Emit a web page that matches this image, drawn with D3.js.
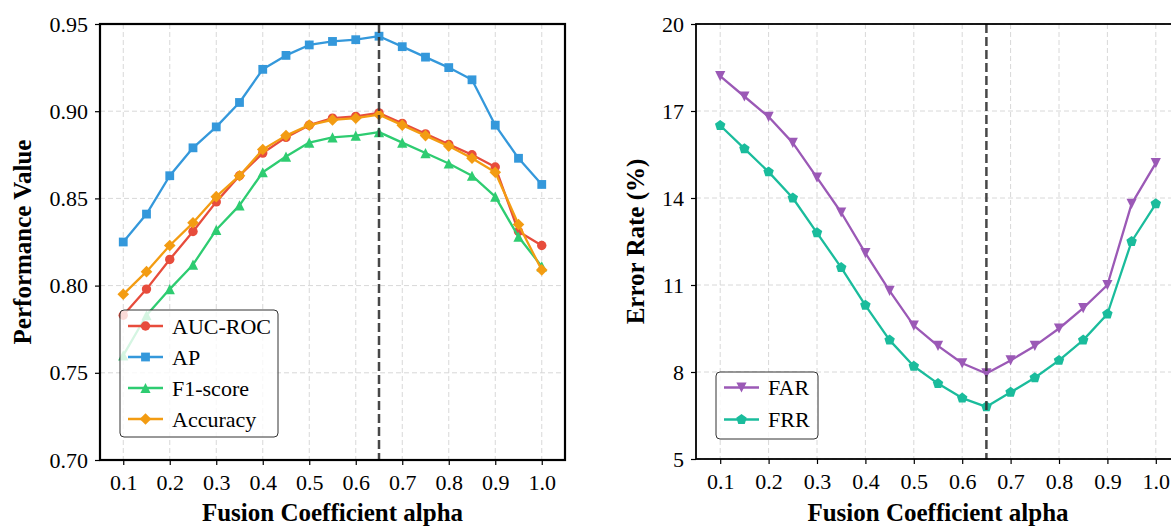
<!DOCTYPE html>
<html><head><meta charset="utf-8">
<script src="https://cdn.jsdelivr.net/npm/d3@7"></script>
<style>
body{margin:0;background:#fff}
svg{display:block}
text{font-family:"Liberation Serif","Times New Roman",serif;fill:#000}
</style>
</head><body>
<svg id="c" width="1171" height="526"></svg>
<script>
// ---- data ----
const alpha = [0.1,0.15,0.2,0.25,0.3,0.35,0.4,0.45,0.5,0.55,0.6,0.65,0.7,0.75,0.8,0.85,0.9,0.95,1.0];
const aucRoc   = [0.783,0.798,0.815,0.831,0.848,0.863,0.876,0.885,0.892,0.896,0.897,0.899,0.893,0.887,0.881,0.875,0.868,0.831,0.823];
const ap       = [0.825,0.841,0.863,0.879,0.891,0.905,0.924,0.932,0.938,0.940,0.941,0.943,0.937,0.931,0.925,0.918,0.892,0.873,0.858];
const f1Score  = [0.760,0.783,0.798,0.812,0.832,0.846,0.865,0.874,0.882,0.885,0.886,0.888,0.882,0.876,0.870,0.863,0.851,0.828,0.811];
const accuracy = [0.795,0.808,0.823,0.836,0.851,0.863,0.878,0.886,0.892,0.895,0.896,0.898,0.892,0.886,0.880,0.873,0.865,0.835,0.809];
const far = [18.2,17.5,16.8,15.9,14.7,13.5,12.1,10.8,9.6,8.9,8.3,7.95,8.4,8.9,9.5,10.2,11.0,13.8,15.2];
const frr = [16.5,15.7,14.9,14.0,12.8,11.6,10.3,9.1,8.2,7.6,7.1,6.8,7.3,7.8,8.4,9.1,10.0,12.5,13.8];
const xTicks = [0.1,0.2,0.3,0.4,0.5,0.6,0.7,0.8,0.9,1.0];
const perfTicks = [0.70,0.75,0.80,0.85,0.90,0.95];
const errTicks = [5,8,11,14,17,20];
const bestAlpha = 0.65;
const perfSeries = [
  {name:"AUC-ROC", values:aucRoc, color:"#e74c3c", marker:"circle"},
  {name:"AP", values:ap, color:"#3498db", marker:"square"},
  {name:"F1-score", values:f1Score, color:"#2ecc71", marker:"triUp"},
  {name:"Accuracy", values:accuracy, color:"#f39c12", marker:"diamond"}
];
const errSeries = [
  {name:"FAR", values:far, color:"#9b59b6", marker:"triDown"},
  {name:"FRR", values:frr, color:"#1abc9c", marker:"pentagon"}
];

function markerPath(t){
  switch(t){
    case "circle": {const r=4.7; return `M${r},0A${r},${r} 0 1,1 ${-r},0A${r},${r} 0 1,1 ${r},0Z`;}
    case "square": {const h=4.4; return `M${-h},${-h}H${h}V${h}H${-h}Z`;}
    case "triUp": {const h=5.1; return `M0,${-h}L${h},${h}L${-h},${h}Z`;}
    case "triDown": {const h=5.1; return `M0,${h}L${h},${-h}L${-h},${-h}Z`;}
    case "diamond": {const h=5.8; return `M0,${-h}L${h},0L0,${h}L${-h},0Z`;}
    case "pentagon": {const r=5.5; let p=[]; for(let i=0;i<5;i++){const a=-Math.PI/2+i*2*Math.PI/5; p.push([r*Math.cos(a),r*Math.sin(a)]);} return "M"+p.map(d=>d.join(",")).join("L")+"Z";}
  }
}

const svg = d3.select("#c");

function panel(cfg){
  const x = d3.scaleLinear().domain([0.05,1.05]).range([cfg.x0,cfg.x1]);
  const y = d3.scaleLinear().domain(cfg.yDomain).range([cfg.y1,cfg.y0]);
  const g = svg.append("g");
  // grid
  const grid = g.append("g");
  grid.selectAll("line.vx").data(xTicks).join("line")
    .attr("x1",d=>x(d)).attr("x2",d=>x(d)).attr("y1",cfg.y0).attr("y2",cfg.y1)
    .attr("stroke","#d8d8d8").attr("stroke-width",1).attr("stroke-dasharray","5,3");
  grid.selectAll("line.hy").data(cfg.yTicks).join("line")
    .attr("x1",cfg.x0).attr("x2",cfg.x1).attr("y1",d=>y(d)).attr("y2",d=>y(d))
    .attr("stroke","#d8d8d8").attr("stroke-width",1).attr("stroke-dasharray","5,3");
  // lines
  const line = d3.line().x((d,i)=>x(alpha[i])).y(d=>y(d));
  cfg.series.forEach(s=>{
    g.append("path").attr("d",line(s.values)).attr("fill","none")
      .attr("stroke",s.color).attr("stroke-width",2.3).attr("stroke-linejoin","round");
    g.selectAll(null).data(s.values).join("path")
      .attr("transform",(d,i)=>`translate(${x(alpha[i])},${y(d)})`)
      .attr("d",markerPath(s.marker)).attr("fill",s.color);
  });
  // best alpha line
  g.append("line").attr("x1",x(bestAlpha)).attr("x2",x(bestAlpha))
    .attr("y1",cfg.y0).attr("y2",cfg.y1)
    .attr("stroke","#333").attr("stroke-opacity",0.9).attr("stroke-width",2.5).attr("stroke-dasharray","9,4");
  // axes
  const xa = g.append("g").attr("transform",`translate(0,${cfg.y1})`)
    .call(d3.axisBottom(x).tickValues(xTicks).tickFormat(d3.format(".1f")).tickSize(5).tickPadding(9));
  const ya = g.append("g").attr("transform",`translate(${cfg.x0},0)`)
    .call(d3.axisLeft(y).tickValues(cfg.yTicks).tickFormat(cfg.yFormat).tickSize(5).tickPadding(7));
  [xa,ya].forEach(a=>{
    a.select(".domain").remove();
    a.selectAll(".tick line").attr("stroke","#000").attr("stroke-width",1.2);
    a.selectAll(".tick text").style("font-size","22px").attr("fill","#000")
      .style("font-family","'Liberation Serif','Times New Roman',serif");
  });
  // spines
  g.append("rect").attr("x",cfg.x0).attr("y",cfg.y0).attr("width",cfg.x1-cfg.x0).attr("height",cfg.y1-cfg.y0)
    .attr("fill","none").attr("stroke","#000").attr("stroke-width",cfg.spine);
  // labels
  g.append("text").attr("x",(cfg.x0+cfg.x1)/2).attr("y",521).attr("text-anchor","middle")
    .style("font-size","25px").style("font-weight","bold").text("Fusion Coefficient alpha");
  g.append("text").attr("transform",`translate(${cfg.ylabX},${(cfg.y0+cfg.y1)/2}) rotate(-90)`)
    .attr("text-anchor","middle").attr("dy","0.35em")
    .style("font-size","25px").style("font-weight","bold").text(cfg.ylabel);
  // legend
  const L = cfg.legend;
  const lg = g.append("g");
  lg.append("rect").attr("x",L.x).attr("y",L.y).attr("width",L.w).attr("height",L.h).attr("rx",4)
    .attr("fill","#fff").attr("fill-opacity",0.8).attr("stroke","#333").attr("stroke-width",1);
  cfg.series.forEach((s,i)=>{
    const cy = L.y + L.first + i*L.step;
    lg.append("line").attr("x1",L.x+8).attr("x2",L.x+43).attr("y1",cy).attr("y2",cy)
      .attr("stroke",s.color).attr("stroke-width",2.3);
    lg.append("path").attr("transform",`translate(${L.x+25.5},${cy})`).attr("d",markerPath(s.marker)).attr("fill",s.color);
    lg.append("text").attr("x",L.x+52).attr("y",cy).attr("dy","0.35em").style("font-size","22px").text(s.name);
  });
}

panel({x0:100,x1:565,y0:24,y1:460,yDomain:[0.70,0.95],yTicks:perfTicks,yFormat:d3.format(".2f"),
  series:perfSeries,ylabel:"Performance Value",ylabX:22,spine:2.2,
  legend:{x:120,y:310,w:158,h:127,first:16,step:31}});
panel({x0:696,x1:1180,y0:24,y1:459,yDomain:[5,20],yTicks:errTicks,yFormat:d3.format("d"),
  series:errSeries,ylabel:"Error Rate (%)",ylabX:635,spine:1.8,
  legend:{x:716,y:372,w:102,h:67,first:15.5,step:32}});
</script>
</body></html>
